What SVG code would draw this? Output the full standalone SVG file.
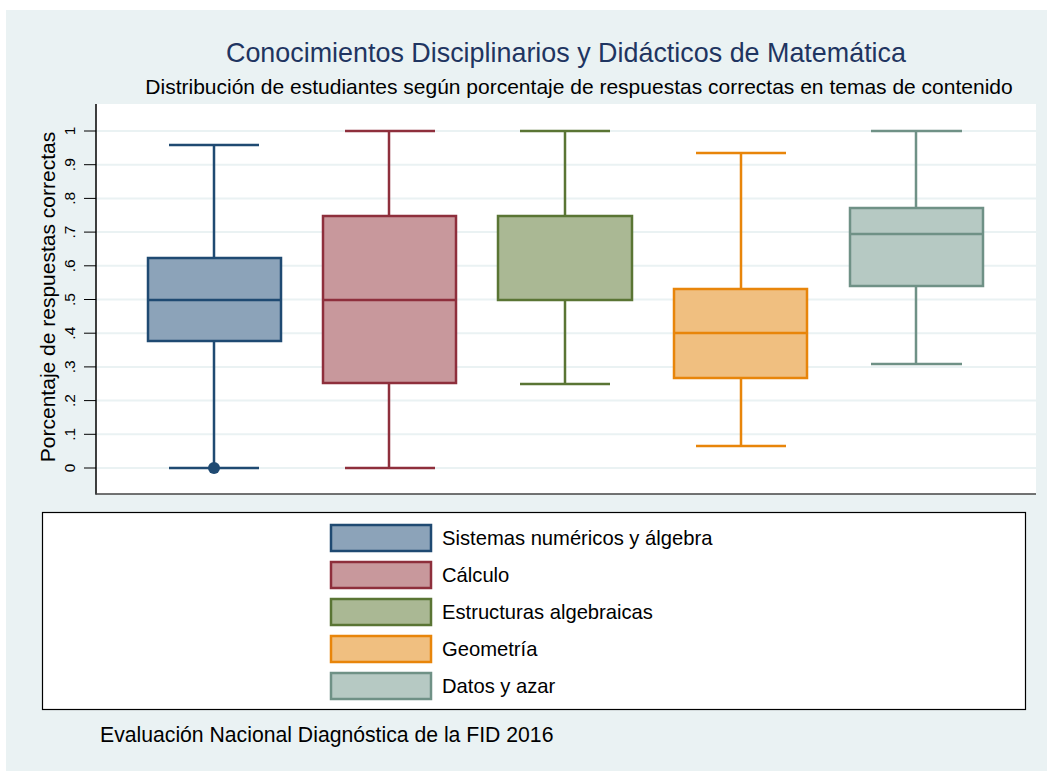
<svg xmlns="http://www.w3.org/2000/svg" width="1047" height="771" viewBox="0 0 1047 771">
<style>
text{font-family:"Liberation Sans",Arial,sans-serif;fill:#000}
.grid{stroke:#EAF2F3;stroke-width:2}
.tick{stroke:#000;stroke-width:1}
.tl{font-size:15.5px;text-anchor:middle}
.wl{stroke-width:2.5;fill:none}
.bx{stroke-width:2.5}
.leg{font-size:20.2px}
.s1{stroke:#1F4A72}.f1{fill:#8CA3B9}
.s2{stroke:#8E2F3C}.f2{fill:#C8989C}
.s3{stroke:#5A7534}.f3{fill:#AAB894}
.s4{stroke:#E8850A}.f4{fill:#F0BF80}
.s5{stroke:#6F9186}.f5{fill:#B6C9C3}
</style>
<rect x="6" y="10" width="1041" height="761" fill="#EAF2F3"/>
<text x="566" y="62" text-anchor="middle" style="font-size:26.9px;fill:#1F3561">Conocimientos Disciplinarios y Didácticos de Matemática</text>
<text x="579" y="94" text-anchor="middle" style="font-size:21px">Distribución de estudiantes según porcentaje de respuestas correctas en temas de contenido</text>
<g id="plot">
<rect x="96" y="104" width="940" height="390" fill="#fff"/>
<g id="grid">
<line class="grid" x1="96" x2="1036" y1="468" y2="468"/>
<line class="grid" x1="96" x2="1036" y1="434.3" y2="434.3"/>
<line class="grid" x1="96" x2="1036" y1="400.6" y2="400.6"/>
<line class="grid" x1="96" x2="1036" y1="366.9" y2="366.9"/>
<line class="grid" x1="96" x2="1036" y1="333.2" y2="333.2"/>
<line class="grid" x1="96" x2="1036" y1="299.5" y2="299.5"/>
<line class="grid" x1="96" x2="1036" y1="265.8" y2="265.8"/>
<line class="grid" x1="96" x2="1036" y1="232.1" y2="232.1"/>
<line class="grid" x1="96" x2="1036" y1="198.4" y2="198.4"/>
<line class="grid" x1="96" x2="1036" y1="164.7" y2="164.7"/>
<line class="grid" x1="96" x2="1036" y1="131" y2="131"/>
</g>
<line x1="96" y1="104" x2="96" y2="494.5" stroke="#000" stroke-width="1.5"/>
<line x1="95.5" y1="494" x2="1036" y2="494" stroke="#444" stroke-width="1.5"/>
<g id="ticks">
<line class="tick" x1="84" x2="96" y1="468" y2="468"/>
<line class="tick" x1="84" x2="96" y1="434.3" y2="434.3"/>
<line class="tick" x1="84" x2="96" y1="400.6" y2="400.6"/>
<line class="tick" x1="84" x2="96" y1="366.9" y2="366.9"/>
<line class="tick" x1="84" x2="96" y1="333.2" y2="333.2"/>
<line class="tick" x1="84" x2="96" y1="299.5" y2="299.5"/>
<line class="tick" x1="84" x2="96" y1="265.8" y2="265.8"/>
<line class="tick" x1="84" x2="96" y1="232.1" y2="232.1"/>
<line class="tick" x1="84" x2="96" y1="198.4" y2="198.4"/>
<line class="tick" x1="84" x2="96" y1="164.7" y2="164.7"/>
<line class="tick" x1="84" x2="96" y1="131" y2="131"/>
<text class="tl" transform="translate(75,468) rotate(-90)">0</text>
<text class="tl" transform="translate(75,434.3) rotate(-90)">.1</text>
<text class="tl" transform="translate(75,400.6) rotate(-90)">.2</text>
<text class="tl" transform="translate(75,366.9) rotate(-90)">.3</text>
<text class="tl" transform="translate(75,333.2) rotate(-90)">.4</text>
<text class="tl" transform="translate(75,299.5) rotate(-90)">.5</text>
<text class="tl" transform="translate(75,265.8) rotate(-90)">.6</text>
<text class="tl" transform="translate(75,232.1) rotate(-90)">.7</text>
<text class="tl" transform="translate(75,198.4) rotate(-90)">.8</text>
<text class="tl" transform="translate(75,164.7) rotate(-90)">.9</text>
<text class="tl" transform="translate(75,131) rotate(-90)">1</text>
</g>
<text transform="translate(55,297) rotate(-90)" text-anchor="middle" style="font-size:21px">Porcentaje de respuestas correctas</text>
</g>
<g id="box-sistemas">
<path class="wl s1" d="M214 145V258M214 341V468M169 145H259M169 468H259"/>
<rect class="bx s1 f1" x="148" y="258" width="133" height="83"/>
<line class="bx s1" x1="148" x2="281" y1="300" y2="300"/>
<circle cx="214" cy="468" r="6" fill="#1F4A72"/>
</g>
<g id="box-calculo">
<path class="wl s2" d="M389 131V216M389 383V468M345 131H435M345 468H435"/>
<rect class="bx s2 f2" x="323" y="216" width="133" height="167"/>
<line class="bx s2" x1="323" x2="456" y1="300" y2="300"/>
</g>
<g id="box-estructuras">
<path class="wl s3" d="M565 131V216M565 300V384M520 131H610M520 384H610"/>
<rect class="bx s3 f3" x="498" y="216" width="134" height="84"/>
</g>
<g id="box-geometria">
<path class="wl s4" d="M741 153V289M741 378V446M696 153H786M696 446H786"/>
<rect class="bx s4 f4" x="674" y="289" width="133" height="89"/>
<line class="bx s4" x1="674" x2="807" y1="333" y2="333"/>
</g>
<g id="box-datos">
<path class="wl s5" d="M916 131V208M916 286V364M871 131H962M871 364H962"/>
<rect class="bx s5 f5" x="850" y="208" width="133" height="78"/>
<line class="bx s5" x1="850" x2="983" y1="234" y2="234"/>
</g>
<g id="legend">
<rect x="42.5" y="512.5" width="983" height="197" fill="#fff" stroke="#000" stroke-width="1.2"/>
<rect class="bx s1 f1" x="331" y="525" width="100" height="26"/>
<text class="leg" x="442" y="545">Sistemas numéricos y álgebra</text>
<rect class="bx s2 f2" x="331" y="562" width="100" height="26"/>
<text class="leg" x="442" y="582">Cálculo</text>
<rect class="bx s3 f3" x="331" y="599" width="100" height="26"/>
<text class="leg" x="442" y="619">Estructuras algebraicas</text>
<rect class="bx s4 f4" x="331" y="636" width="100" height="26"/>
<text class="leg" x="442" y="656">Geometría</text>
<rect class="bx s5 f5" x="331" y="673" width="100" height="26"/>
<text class="leg" x="442" y="693">Datos y azar</text>
</g>
<text x="100" y="742" style="font-size:21.2px">Evaluación Nacional Diagnóstica de la FID 2016</text>
</svg>
